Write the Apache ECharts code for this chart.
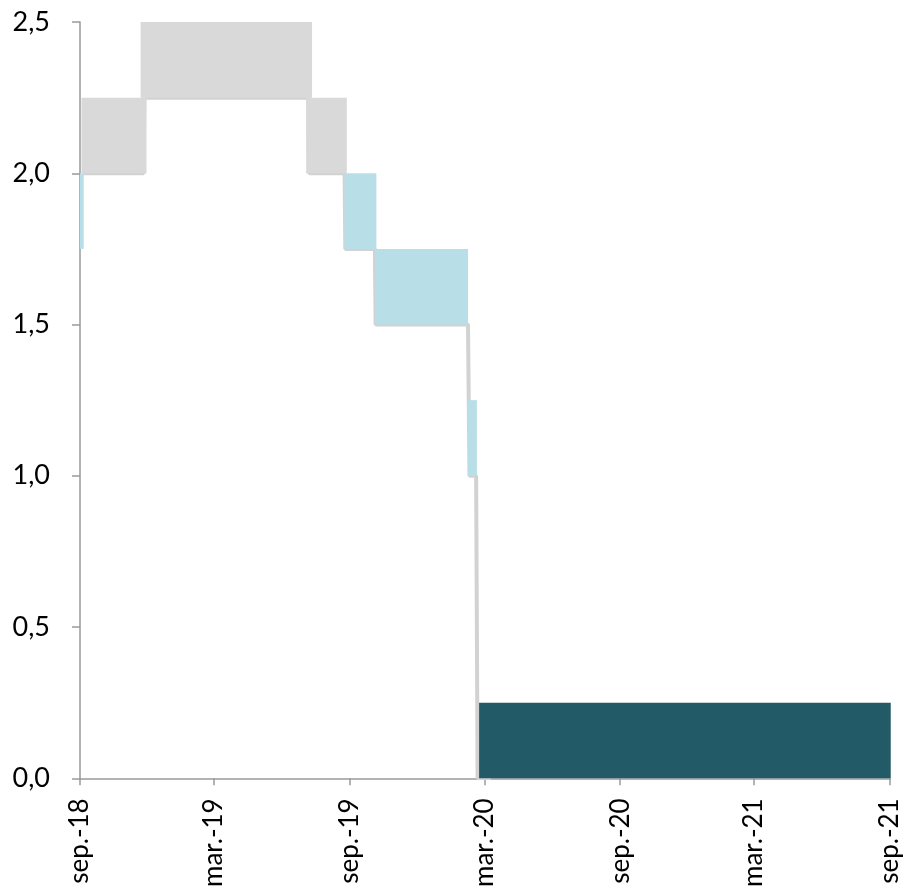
<!DOCTYPE html>
<html>
<head>
<meta charset="utf-8">
<script src="https://cdn.jsdelivr.net/npm/echarts@6/dist/echarts.min.js"></script>
<style>
html,body{margin:0;padding:0;background:#fff;}
#chart{width:904px;height:890px;}
</style>
</head>
<body>
<div id="chart"></div>
<script>
// X-axis ticks (dates) and their labels
const tickDates = ['2018-09-01','2019-03-01','2019-09-01','2020-03-01','2020-09-01','2021-03-01','2021-09-01'];
const tickLabels = ['sep.-18','mar.-19','sep.-19','mar.-20','sep.-20','mar.-21','sep.-21'];

// Bands: [start, end, lower, upper]
const grayBands = [
  ['2018-09-03','2018-11-30',2.00,2.25],
  ['2018-11-22','2019-07-12',2.25,2.50],
  ['2019-07-04','2019-08-28',2.00,2.25]
];
const blueBands = [
  ['2018-09-01','2018-09-06',1.75,2.00],
  ['2019-08-25','2019-10-07',1.75,2.00],
  ['2019-10-05','2020-02-08',1.50,1.75],
  ['2020-02-08','2020-02-20',1.00,1.25]
];
const tealBands = [
  ['2020-02-23','2021-09-02',0.00,0.25]
];
// Lower bound path (gray line)
const lowerBound = [
  ['2018-09-04',2.00],['2018-11-26',2.00],['2018-11-27',2.25],
  ['2019-07-07',2.25],['2019-07-08',2.00],['2019-08-25',2.00],
  ['2019-08-26',1.75],['2019-10-05',1.75],['2019-10-06',1.50],
  ['2020-02-08',1.50],['2020-02-10',1.00],['2020-02-19',1.00],
  ['2020-02-21',0.00],['2020-03-10',0.00]
];

// Dates are placed on a day-count scale starting at the first tick date
const DAY = 86400000;
const origin = Date.UTC(2018, 8, 1);
const dnum = s => Math.round((Date.UTC(+s.slice(0,4), +s.slice(5,7) - 1, +s.slice(8,10)) - origin) / DAY);
const toRectData = arr => arr.map(r => [dnum(r[0]), dnum(r[1]), r[2], r[3]]);
const tickVals = tickDates.map(dnum);

function rectRender(color) {
  return function (params, api) {
    const p1 = api.coord([api.value(0), api.value(3)]);
    const p2 = api.coord([api.value(1), api.value(2)]);
    return {
      type: 'rect',
      shape: { x: p1[0], y: p1[1], width: p2[0] - p1[0], height: p2[1] - p1[1] },
      style: { fill: color }
    };
  };
}

const chart = echarts.init(document.getElementById('chart'), null, { renderer: 'canvas' });
const FONT = 'Lato, "Open Sans", sans-serif';
const axisColor = '#9a9a9a';

chart.setOption({
  animation: false,
  backgroundColor: '#ffffff',
  grid: { left: 80, right: 14, top: 22, bottom: 108, containLabel: false },
  xAxis: {
    type: 'value',
    min: tickVals[0],
    max: tickVals[tickVals.length - 1],
    splitLine: { show: false },
    axisLine: { show: true, onZero: false, lineStyle: { color: axisColor, width: 1.5 } },
    axisTick: { show: true, length: 7, lineStyle: { color: axisColor, width: 1.5 }, customValues: tickVals },
    axisLabel: {
      customValues: tickVals,
      rotate: 90,
      margin: 20,
      fontSize: 26,
      fontFamily: FONT,
      color: '#000',
      formatter: function (v) {
        const i = tickVals.indexOf(Math.round(v));
        return i >= 0 ? tickLabels[i] : '';
      }
    }
  },
  yAxis: {
    type: 'value',
    min: 0,
    max: 2.5,
    interval: 0.5,
    splitLine: { show: false },
    axisLine: { show: true, onZero: false, lineStyle: { color: axisColor, width: 1.5 } },
    axisTick: { show: true, length: 8, lineStyle: { color: axisColor, width: 1.5 } },
    axisLabel: {
      margin: 30,
      fontSize: 27,
      fontFamily: FONT,
      color: '#000',
      formatter: v => v.toFixed(1).replace('.', ',')
    }
  },
  series: [
    {
      type: 'custom', name: 'blue', z: 2,
      renderItem: rectRender('#b8dee8'),
      encode: { x: [0, 1], y: [2, 3] },
      data: toRectData(blueBands)
    },
    {
      type: 'line', name: 'lower', z: 1,
      showSymbol: false, symbol: 'none',
      lineStyle: { color: '#d2d2d2', width: 4 },
      data: lowerBound.map(p => [dnum(p[0]), p[1]])
    },
    {
      type: 'custom', name: 'gray', z: 3,
      renderItem: rectRender('#d9d9d9'),
      encode: { x: [0, 1], y: [2, 3] },
      data: toRectData(grayBands)
    },
    {
      type: 'custom', name: 'teal', z: 3, clip: false,
      renderItem: rectRender('#225a67'),
      encode: { x: [0, 1], y: [2, 3] },
      data: toRectData(tealBands)
    }
  ]
});
</script>
</body>
</html>
